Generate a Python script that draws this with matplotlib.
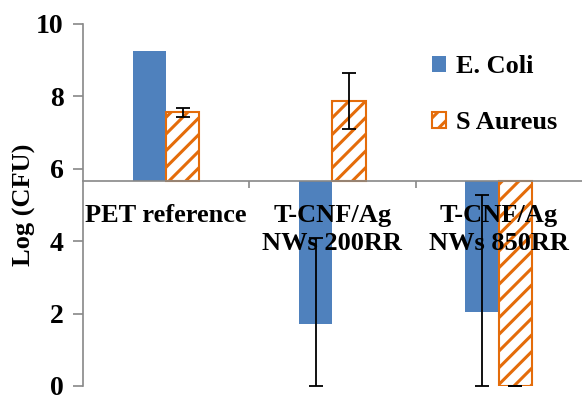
import numpy as np
import matplotlib.pyplot as plt

plt.rcParams['font.family'] = 'Liberation Serif'
plt.rcParams['font.weight'] = 'bold'
plt.rcParams['hatch.linewidth'] = 2.2

categories = ['PET reference', 'T-CNF/Ag\nNWs 200RR', 'T-CNF/Ag\nNWs 850RR']
ecoli = [9.26, 1.70, 2.05]
ecoli_err_lo = [0.0, 1.70, 2.05]
ecoli_err_hi = [0.0, 2.40, 3.23]
saureus = [7.56, 7.88, 0.0]
saureus_err_lo = [0.13, 0.77, 0.0]
saureus_err_hi = [0.13, 0.77, 0.0]
baseline = 5.67

blue = '#4F81BD'
orange = '#E46C0A'

fig = plt.figure(figsize=(5.82, 3.95), dpi=100)
ax = fig.add_axes([0.1426, 0.0228, 0.857, 0.9165])

x = np.arange(len(categories))
w = 0.2

ax.bar(x - w/2, np.array(ecoli) - baseline, w, bottom=baseline, color=blue,
       label='E. Coli')
ax.errorbar(x[1:] - w/2, ecoli[1:], yerr=[ecoli_err_lo[1:], ecoli_err_hi[1:]],
            fmt='none', ecolor='black', elinewidth=1.3, capsize=5, capthick=1.3,
            clip_on=False, zorder=3)
ax.bar(x + w/2, np.array(saureus) - baseline, w, bottom=baseline, color='white',
       edgecolor=orange, hatch='//', linewidth=1.5, label='S Aureus')
ax.errorbar(x + w/2, saureus, yerr=[saureus_err_lo, saureus_err_hi],
            fmt='none', ecolor='black', elinewidth=1.3, capsize=5, capthick=1.3,
            clip_on=False, zorder=3)

ax.set_xlim(-0.5, 2.5)
ax.set_ylim(0, 10)
ax.set_yticks([0, 2, 4, 6, 8, 10])
ax.tick_params(axis='y', labelsize=20, length=7, color='#888888', width=1.2, pad=7)
ax.set_ylabel('Log (CFU)', fontsize=19, fontweight='bold', labelpad=0)

ax.spines['bottom'].set_position(('data', baseline))
for s in ['top', 'right']:
    ax.spines[s].set_visible(False)
for s in ['left', 'bottom']:
    ax.spines[s].set_color('#888888')
    ax.spines[s].set_linewidth(1.2)

ax.set_xticks([0.5, 1.5])
ax.set_xticklabels([])
ax.tick_params(axis='x', which='major', length=5, color='#888888', width=1.2)
ax.set_xticks(x, minor=True)
ax.set_xticklabels(categories, minor=True, fontsize=19, fontweight='bold',
                   linespacing=1.25)
ax.tick_params(axis='x', which='minor', length=0, pad=17)

ax.legend(loc='upper left', bbox_to_anchor=(0.652, 0.98), frameon=False,
          fontsize=19, handlelength=0.55, handleheight=0.55, handletextpad=0.35,
          labelspacing=1.25)

fig.savefig('out.png', dpi=100)
